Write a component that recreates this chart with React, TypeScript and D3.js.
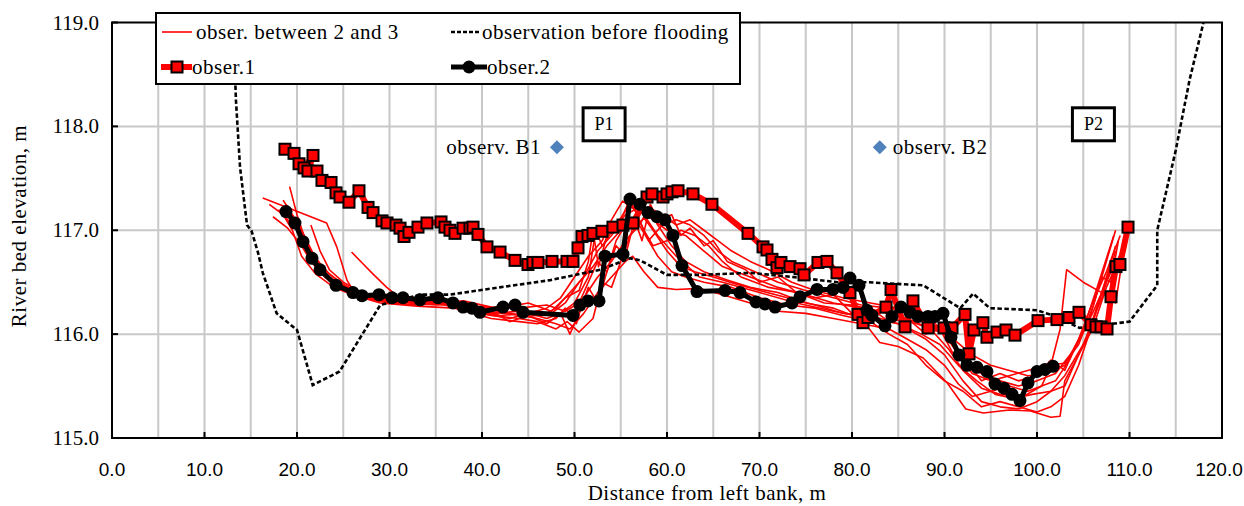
import React from "react";
import * as d3 from "d3";

// ---------- data ----------
const xTickValues = [0, 10, 20, 30, 40, 50, 60, 70, 80, 90, 100, 110, 120];
const yTickValues = [115, 116, 117, 118, 119];

const beforeFlooding: [number, number][] = [
  [13.1, 119.0], [13.4, 118.25], [13.84, 117.61], [14.27, 117.29], [14.6, 117.05], [15.1, 116.99],
  [15.8, 116.78], [16.3, 116.59], [17.3, 116.33], [17.8, 116.2], [20.0, 116.04], [21.7, 115.51],
  [24.6, 115.64], [29.0, 116.28], [33.3, 116.38], [36.5, 116.38], [41.9, 116.45], [47.4, 116.52],
  [52.8, 116.62], [56.0, 116.73], [57.1, 116.71], [60.0, 116.57], [63.6, 116.57], [69.0, 116.59],
  [73.6, 116.55], [78.4, 116.5], [81.6, 116.5], [87.7, 116.47], [90.6, 116.31], [91.7, 116.25],
  [93.1, 116.39], [94.9, 116.25], [100.0, 116.23], [101.7, 116.18], [104.6, 116.06], [110.0, 116.12],
  [113.0, 116.47], [113.0, 117.0], [115.0, 117.77], [116.5, 118.45], [118.0, 119.0],
];

const obser1: [number, number][] = [
  [18.7, 117.78], [19.68, 117.74], [20.22, 117.64], [20.76, 117.6], [21.73, 117.72], [21.19, 117.57],
  [22.16, 117.57], [22.7, 117.48], [23.68, 117.46], [24.22, 117.36], [24.65, 117.32], [25.62, 117.27],
  [26.7, 117.38], [27.68, 117.22], [28.22, 117.17], [29.19, 117.09], [29.73, 117.07], [30.7, 117.05],
  [31.14, 117.02], [31.57, 116.94], [32.11, 116.98], [33.08, 117.03], [34.05, 117.07], [35.57, 117.08],
  [36.0, 117.03], [36.54, 117.0], [37.08, 116.97], [37.95, 117.02], [38.7, 117.02], [39.03, 117.03],
  [39.57, 116.96], [40.54, 116.84], [41.95, 116.79], [43.57, 116.71], [44.97, 116.67], [45.51, 116.69],
  [46.05, 116.69], [47.57, 116.7], [49.19, 116.7], [49.84, 116.7], [50.38, 116.83], [50.81, 116.94],
  [51.46, 116.95], [52.0, 116.97], [52.97, 116.99], [54.16, 117.03], [55.24, 117.05], [56.32, 117.07],
  [57.84, 117.32], [58.38, 117.35], [59.57, 117.32], [60.0, 117.35], [60.54, 117.37], [61.19, 117.38],
  [62.81, 117.35], [64.86, 117.25], [68.76, 116.97], [70.38, 116.84], [70.81, 116.81], [71.35, 116.72],
  [71.89, 116.64], [72.32, 116.69], [73.3, 116.65], [74.38, 116.63], [74.81, 116.57], [76.32, 116.69],
  [77.3, 116.7], [78.38, 116.59], [79.78, 116.4], [80.65, 116.19], [81.19, 116.11], [81.73, 116.16],
  [83.68, 116.26], [84.22, 116.43], [85.73, 116.07], [86.59, 116.32], [88.22, 116.06], [89.95, 116.06],
  [90.81, 116.06], [92.22, 116.19], [92.65, 115.81], [93.19, 116.04], [94.16, 116.11], [94.59, 115.97],
  [95.68, 116.02], [96.65, 116.04], [97.62, 115.99], [100.11, 116.13], [102.16, 116.14], [103.46, 116.16],
  [104.54, 116.21], [105.84, 116.09], [106.38, 116.07], [106.92, 116.07], [107.57, 116.05], [108.0, 116.36],
  [108.54, 116.65], [108.97, 116.67], [109.84, 117.03],
];

const obser2: [number, number][] = [
  [18.81, 117.18], [19.78, 117.07], [20.65, 116.89], [21.62, 116.73], [22.49, 116.62], [24.22, 116.47],
  [26.05, 116.4], [27.03, 116.37], [28.86, 116.38], [30.27, 116.35], [31.46, 116.35], [33.3, 116.33],
  [35.24, 116.35], [36.86, 116.3], [37.95, 116.26], [38.92, 116.25], [39.78, 116.21], [42.27, 116.26],
  [43.57, 116.28], [44.43, 116.21], [49.84, 116.18], [50.59, 116.28], [51.46, 116.32], [52.65, 116.32],
  [53.3, 116.75], [55.24, 116.77], [56.0, 117.3], [57.08, 117.25], [57.95, 117.17], [58.92, 117.13],
  [59.78, 117.1], [60.65, 116.95], [61.62, 116.66], [63.24, 116.41], [66.27, 116.42], [67.89, 116.4],
  [69.62, 116.31], [70.59, 116.29], [71.68, 116.26], [73.51, 116.3], [74.38, 116.36], [76.22, 116.43],
  [77.95, 116.43], [79.03, 116.45], [79.78, 116.54], [80.76, 116.47], [81.62, 116.23], [82.16, 116.18],
  [83.57, 116.08], [84.32, 116.17], [85.3, 116.26], [86.27, 116.21], [87.14, 116.17], [88.22, 116.17],
  [88.97, 116.17], [89.84, 116.2], [90.7, 115.97], [91.57, 115.8], [92.43, 115.7], [93.51, 115.68],
  [94.59, 115.64], [95.46, 115.52], [96.43, 115.48], [97.3, 115.42], [98.16, 115.36], [99.03, 115.53],
  [100.0, 115.64], [100.86, 115.66], [101.73, 115.69],
];

const between1: [number, number][] = [
  [16.3, 117.31], [19.5, 117.2], [23.2, 117.07], [24.3, 116.84], [25.4, 116.52], [26.2, 116.4], [28.5, 116.32],
  [31, 116.3], [35, 116.32], [38, 116.25], [41, 116.2], [44, 116.22], [46.5, 116.18], [48, 116.25], [49.5, 116.4],
  [51, 116.55], [52.5, 116.8], [54, 116.95], [55.5, 117.15], [57, 117.22], [58.5, 117.1], [60, 117.0], [62, 116.95],
  [64, 116.8], [66, 116.65], [69, 116.55], [72, 116.45], [75, 116.38], [78, 116.3], [81, 116.25], [84, 116.2],
  [87, 116.1], [90, 116.0], [92, 115.75], [94, 115.62], [96, 115.55], [98, 115.5], [100, 115.55], [102, 115.62],
  [104, 115.85], [106, 116.2], [108, 116.6], [109.5, 116.85],
];
const between2: [number, number][] = [
  [17.4, 117.13], [19, 117.02], [20.5, 116.85], [21.5, 116.7], [23, 116.55], [25, 116.42], [27, 116.35], [30, 116.3],
  [33, 116.28], [36, 116.3], [39, 116.22], [42, 116.18], [45, 116.2], [47, 116.15], [48.5, 116.2], [50, 116.3],
  [51.5, 116.55], [52.3, 117.0], [53, 116.85], [54.5, 117.05], [56, 117.25], [57.5, 117.15], [59, 116.95],
  [61, 116.75], [63.5, 116.55], [66, 116.5], [70, 116.4], [74, 116.3], [78, 116.22], [82, 116.15], [85, 116.1],
  [88, 115.95], [90, 115.8], [92, 115.55], [94, 115.35], [96, 115.3], [98, 115.28], [100, 115.35], [101.5, 115.45],
  [103, 115.6], [105, 115.9], [107, 116.35], [108.5, 116.8],
];
const between3: [number, number][] = [
  [18.5, 117.29], [19.8, 117.1], [20.8, 116.9], [22, 116.7], [23.5, 116.55], [25, 116.45], [26.5, 116.36],
  [29, 116.33], [32, 116.3], [35, 116.28], [38, 116.3], [40, 116.2], [43, 116.15], [45, 116.2], [47, 116.25],
  [48.5, 116.35], [50, 116.55], [51.5, 116.75], [53, 116.9], [54, 117.1], [55.2, 117.28], [56.5, 117.2],
  [57.5, 117.0], [58.5, 116.85], [60, 116.9], [61.5, 117.0], [63, 116.95], [64.5, 116.85], [66, 116.7],
  [68, 116.55], [71, 116.45], [74, 116.4], [77, 116.3], [80, 116.28], [83, 116.22], [86, 116.15], [88.5, 116.05],
  [90.5, 115.85], [92, 115.65], [94, 115.48], [96, 115.42], [98.5, 115.4], [100.5, 115.5], [102, 115.55],
  [103.5, 115.75], [105, 116.05], [106.5, 116.45], [108.3, 116.95],
];
const between4: [number, number][] = [
  [19.2, 117.42], [20, 117.15], [21, 116.88], [22, 116.72], [23.5, 116.58], [25, 116.48], [27, 116.38],
  [29.5, 116.33], [33, 116.35], [36, 116.33], [39, 116.27], [42, 116.25], [45, 116.3], [47.5, 116.22],
  [49, 116.35], [50.5, 116.42], [51.5, 116.7], [52, 117.0], [52.6, 116.65], [53.5, 116.95], [55, 117.1],
  [56, 117.3], [57, 117.1], [58, 116.9], [59.5, 117.05], [61, 117.1], [62.5, 117.05], [64, 116.95], [65.5, 116.8],
  [67, 116.7], [69.5, 116.6], [72, 116.5], [75, 116.42], [78, 116.35], [81, 116.28], [84, 116.25], [87, 116.2],
  [89, 116.1], [91, 115.95], [93, 115.8], [95, 115.7], [97, 115.65], [99, 115.6], [101, 115.62], [103, 115.7],
  [104.5, 115.95], [106, 116.3], [107.5, 116.6], [109, 116.95],
];
const between5: [number, number][] = [
  [25.9, 116.79], [27.1, 116.68], [28.2, 116.58], [29.7, 116.45], [30.8, 116.37], [33, 116.3], [36, 116.28],
  [39, 116.2], [41, 116.15], [44, 116.12], [46, 116.1], [48, 116.15], [49, 116.25], [50.2, 116.1], [51, 116.35],
  [52.5, 116.55], [54, 116.7], [55.5, 116.9], [57, 117.05], [58, 117.2], [59, 117.05], [60.5, 116.85], [62, 116.7],
  [64, 116.6], [66.5, 116.52], [69, 116.45], [72, 116.4], [75, 116.3], [78, 116.25], [81, 116.15], [83, 115.92],
  [85, 115.88], [87.7, 115.77], [90.3, 115.53], [92.3, 115.28], [94.2, 115.24], [97, 115.27], [99.3, 115.26],
  [101.5, 115.2], [102.5, 115.21], [103, 115.55], [104.5, 115.8], [106, 116.05], [107.5, 116.45], [109, 116.75],
];
const between6: [number, number][] = [
  [20.5, 117.0], [21.5, 116.82], [22.5, 116.65], [24, 116.5], [26, 116.4], [28, 116.35], [31, 116.33],
  [34, 116.3], [37, 116.3], [40, 116.25], [43, 116.2], [46, 116.15], [48, 116.1], [49.5, 116.05], [51, 116.2],
  [52.5, 116.4], [54, 116.55], [55.5, 116.7], [56.3, 116.75], [57.5, 116.6], [59, 116.45], [61, 116.43],
  [63.6, 116.44], [66, 116.38], [69, 116.3], [72, 116.22], [75, 116.2], [78, 116.15], [81, 116.1], [84, 116.05],
  [86, 115.95], [88, 115.85], [90, 115.7], [91.5, 115.52], [93, 115.4], [95, 115.45], [97, 115.5], [99, 115.45],
  [100.5, 115.5], [101.5, 115.7], [102.5, 116.05], [103.2, 116.62], [105, 116.5], [107, 116.4], [108.5, 116.3],
  [109.2, 116.7],
];
const between7: [number, number][] = [
  [18.0, 117.2], [19, 117.1], [20, 117.0], [21, 116.8], [22.5, 116.6], [24, 116.5], [26, 116.42], [28, 116.36],
  [31, 116.35], [34, 116.32], [37, 116.28], [40, 116.22], [42.5, 116.2], [45, 116.17], [47.5, 116.2], [49, 116.3],
  [50.5, 116.5], [52, 116.65], [53.5, 116.85], [55, 117.0], [56.5, 117.12], [58, 117.22], [59.5, 117.15],
  [61, 117.05], [62.5, 117.1], [64, 117.0], [65.5, 116.9], [67, 116.8], [69, 116.7], [71, 116.62], [73.5, 116.5],
  [76, 116.42], [79, 116.35], [82, 116.3], [85, 116.25], [88, 116.15], [90, 116.0], [91.5, 115.8], [93, 115.62],
  [95, 115.55], [97, 115.6], [99, 115.65], [101, 115.7], [103, 115.72], [104.5, 115.9], [106, 116.25],
  [107.5, 116.7], [108.5, 117.0],
];
const between8: [number, number][] = [
  [18.8, 117.25], [20.2, 117.05], [21.5, 116.8], [23, 116.62], [24.5, 116.5], [26.5, 116.4], [29, 116.36],
  [32, 116.34], [35, 116.3], [38, 116.32], [41, 116.26], [44, 116.25], [47, 116.28], [49, 116.22], [50.5, 116.3],
  [51.5, 116.5], [52.5, 116.7], [53.5, 116.6], [54.5, 116.9], [55.5, 117.05], [56.5, 117.0], [57.5, 117.12],
  [58.5, 117.0], [60, 116.8], [61.5, 116.65], [63, 116.6], [65, 116.55], [67.5, 116.48], [70, 116.42],
  [73, 116.35], [76, 116.28], [79, 116.2], [82, 116.18], [85, 116.1], [87.5, 116.0], [89.5, 115.9], [91.5, 115.7],
  [93.5, 115.55], [95.5, 115.42], [97.5, 115.38], [99.5, 115.42], [101.5, 115.45], [103, 115.5], [104, 115.7],
  [105.5, 116.0], [107, 116.4], [108.2, 116.7],
];
const between9: [number, number][] = [
  [21.5, 117.05], [22.5, 116.8], [23.5, 116.62], [25, 116.5], [27, 116.4], [30, 116.33], [34, 116.3], [38, 116.27],
  [41, 116.22], [43, 116.12], [45, 116.18], [47, 116.1], [48.5, 116.2], [49.5, 116.0], [50.5, 116.2], [51.5, 116.45],
  [52.5, 116.3], [53.5, 116.6], [54.5, 116.85], [55.5, 116.75], [56.5, 117.1], [57.3, 116.9], [58.2, 117.25],
  [59, 117.1], [60.5, 117.15], [61.5, 116.95], [62.5, 117.02], [64, 116.85], [65, 116.9], [66.5, 116.7],
  [68.5, 116.62], [70, 116.5], [72, 116.55], [74, 116.4], [76, 116.35], [78, 116.38], [80, 116.2], [82, 116.25],
  [84, 116.12], [86, 116.15], [88, 116.0], [89.5, 116.05], [91, 115.8], [92.5, 115.72], [94, 115.55], [96, 115.62],
  [98, 115.55], [100, 115.6], [101.5, 115.75], [103, 115.65], [104, 115.85], [105.5, 116.1], [107, 116.55],
  [108, 116.5], [108.8, 116.9],
];
const between10: [number, number][] = [
  [17.0, 117.25], [18.5, 117.15], [19.5, 117.0], [20.5, 116.75], [22, 116.58], [24, 116.45], [26, 116.38],
  [29, 116.3], [33, 116.27], [37, 116.25], [41, 116.18], [44, 116.15], [46, 116.12], [48, 116.05], [49.2, 116.12],
  [50.5, 116.02], [52, 116.15], [53, 116.5], [54, 116.45], [55, 116.7], [56, 116.95], [57, 117.05], [58, 116.9],
  [59, 116.75], [60.5, 116.6], [62, 116.55], [64, 116.5], [67, 116.45], [70, 116.35], [73, 116.28], [76, 116.25],
  [79, 116.18], [82, 116.12], [84, 116.0], [86, 115.9], [88, 115.7], [90, 115.55], [92, 115.45], [94, 115.3],
  [96, 115.35], [98, 115.3], [100, 115.25], [101.5, 115.3], [103, 115.4], [104.5, 115.7], [106, 116.1],
  [107.5, 116.55], [108.5, 116.85],
];
const betweenSeries = [between1, between2, between3, between4, between5, between6, between7, between8, between9, between10];

const boreholes = [
  { name: "observ. B1", x: 48.1, y: 117.8, side: "left" },
  { name: "observ. B2", x: 83.0, y: 117.8, side: "right" },
];
const pointLabels = [
  { name: "P1", x: 53.2, y: 118.02 },
  { name: "P2", x: 106.1, y: 118.02 },
];

// ---------- layout ----------
const W = 1244;
const H = 506;
const L = 112, R = 1222, T = 22.5, B = 438;

export default function App() {
  const x = d3.scaleLinear().domain([0, 120]).range([L, R]);
  const y = d3.scaleLinear().domain([115, 119]).range([B, T]);
  const line = d3.line<[number, number]>().x((d) => x(d[0])).y((d) => y(d[1]));
  const gridX = d3.range(5, 120, 5);
  const gridY = [116, 117, 118];
  const serif = "'Liberation Serif', 'Times New Roman', serif";
  const sans = "'Liberation Sans', Arial, sans-serif";
  const blue = "#4F81BD";
  const fs = 21;
  const ls = 0.5;
  const diamond = (cx: number, cy: number, r: number) =>
    `M${cx},${cy - r}L${cx + r},${cy}L${cx},${cy + r}L${cx - r},${cy}Z`;

  return (
    <div style={{ position: "absolute", left: 0, top: 0 }}>
      <svg width={W} height={H} style={{ display: "block", background: "#fff" }}>
        <defs>
          <clipPath id="plot">
            <rect x={L} y={T} width={R - L} height={B - T} />
          </clipPath>
        </defs>
        {/* grid */}
        {gridX.map((g) => (
          <line key={"gx" + g} x1={x(g)} x2={x(g)} y1={T} y2={B} stroke="#c8c8c8" strokeWidth={2} />
        ))}
        {gridY.map((g) => (
          <line key={"gy" + g} x1={L} x2={R} y1={y(g)} y2={y(g)} stroke="#c8c8c8" strokeWidth={2} />
        ))}
        <g clipPath="url(#plot)">
          {betweenSeries.map((s, i) => (
            <path key={"b" + i} d={line(s) || ""} fill="none" stroke="#ff0000" strokeWidth={1.6} strokeLinejoin="round" />
          ))}
          <path d={line(beforeFlooding) || ""} fill="none" stroke="#000" strokeWidth={2.6} strokeDasharray="4.5,2.5" />
          <path d={line(obser1) || ""} fill="none" stroke="#ff0000" strokeWidth={6} strokeLinejoin="round" />
          {obser1.map((d, i) => (
            <rect key={"s" + i} x={x(d[0]) - 5.5} y={y(d[1]) - 5.5} width={11} height={11} fill="#ff0000" stroke="#000" strokeWidth={2} />
          ))}
          <path d={line(obser2) || ""} fill="none" stroke="#000" strokeWidth={5} strokeLinejoin="round" />
          {obser2.map((d, i) => (
            <circle key={"c" + i} cx={x(d[0])} cy={y(d[1])} r={6.5} fill="#000" />
          ))}
        </g>
        {/* axes box */}
        <rect x={L} y={T} width={R - L} height={B - T} fill="none" stroke="#000" strokeWidth={2} />
        {xTickValues.map((v, i) => (
          <g key={"xt" + v}>
            <line x1={x(v)} x2={x(v)} y1={B} y2={B - 6} stroke="#000" strokeWidth={2} />
            <text
              x={i === xTickValues.length - 1 ? x(v) - 3 : x(v)}
              y={476}
              textAnchor="middle"
              fontFamily={sans}
              fontSize={19}
              fill="#000"
            >
              {v.toFixed(1)}
            </text>
          </g>
        ))}
        {yTickValues.map((v) => (
          <g key={"yt" + v}>
            <line x1={L} x2={L + 6} y1={y(v)} y2={y(v)} stroke="#000" strokeWidth={2} />
            <text x={99} y={y(v) + 7} textAnchor="end" fontFamily={serif} fontSize={fs} fill="#000">
              {v.toFixed(1)}
            </text>
          </g>
        ))}
        <text x={707} y={500} textAnchor="middle" fontFamily={serif} fontSize={fs} letterSpacing={ls} fill="#000">
          Distance from left bank, m
        </text>
        <text transform="translate(26,226) rotate(-90)" textAnchor="middle" fontFamily={serif} fontSize={fs} letterSpacing={ls} fill="#000">
          River bed elevation, m
        </text>

        {/* borehole markers */}
        {boreholes.map((b) => (
          <g key={b.name}>
            <path d={diamond(x(b.x), y(b.y), 7)} fill={blue} />
            <text
              x={b.side === "left" ? x(b.x) - 16 : x(b.x) + 13}
              y={y(b.y) + 7}
              textAnchor={b.side === "left" ? "end" : "start"}
              fontFamily={serif}
              fontSize={fs}
              letterSpacing={ls}
              fill="#000"
            >
              {b.name}
            </text>
          </g>
        ))}
        {pointLabels.map((p) => (
          <g key={p.name}>
            <rect x={x(p.x) - 21} y={y(p.y) - 16.5} width={42} height={33} fill="#fff" stroke="#000" strokeWidth={3} />
            <text x={x(p.x)} y={y(p.y) + 6} textAnchor="middle" fontFamily={serif} fontSize={18} fill="#000">
              {p.name}
            </text>
          </g>
        ))}

        {/* legend */}
        <g>
          <rect x={156} y={13} width={584} height={71} fill="#fff" stroke="#000" strokeWidth={2} />
          <line x1={162} x2={192} y1={32} y2={32} stroke="#ff0000" strokeWidth={1.6} />
          <text x={196} y={39} fontFamily={serif} fontSize={fs} letterSpacing={ls} fill="#000">obser. between 2 and 3</text>
          <line x1={451} x2={481} y1={32} y2={32} stroke="#000" strokeWidth={2.6} strokeDasharray="4,2" />
          <text x={482} y={39} fontFamily={serif} fontSize={fs} letterSpacing={ls} fill="#000">observation before flooding</text>
          <line x1={161} x2={192} y1={67} y2={67} stroke="#ff0000" strokeWidth={6} />
          <rect x={171.5} y={61.5} width={11} height={11} fill="#ff0000" stroke="#000" strokeWidth={2} />
          <text x={192} y={74} fontFamily={serif} fontSize={fs} letterSpacing={ls} fill="#000">obser.1</text>
          <line x1={451} x2={487} y1={67} y2={67} stroke="#000" strokeWidth={5} />
          <circle cx={469} cy={67} r={6.5} fill="#000" />
          <text x={487} y={74} fontFamily={serif} fontSize={fs} letterSpacing={ls} fill="#000">obser.2</text>
        </g>
      </svg>
    </div>
  );
}
